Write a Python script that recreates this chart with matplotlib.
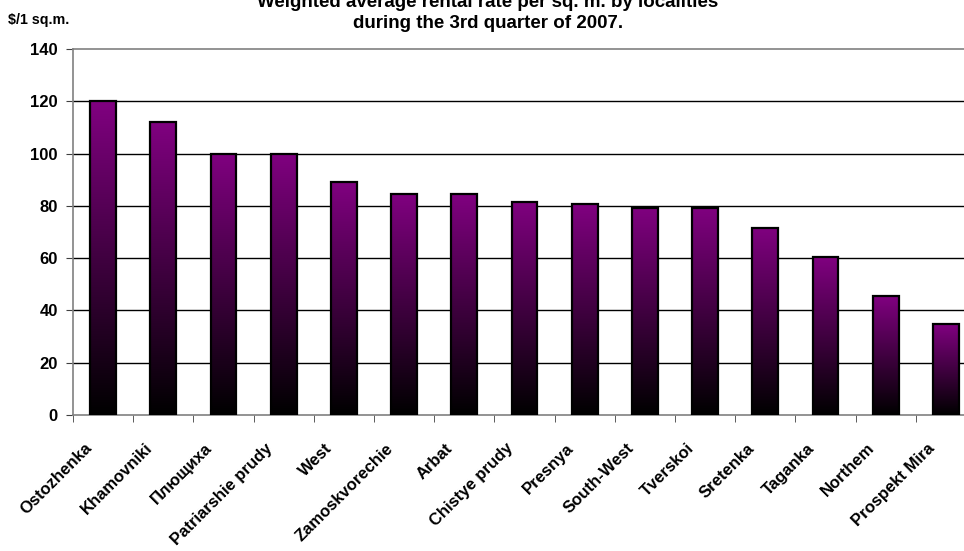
import matplotlib
matplotlib.use('Agg')
import matplotlib.pyplot as plt
import matplotlib.transforms as mtransforms
import numpy as np
from matplotlib.colors import LinearSegmentedColormap

# Rental rates by locality, $ per sq. m.
localities = ['Ostozhenka', 'Khamovniki', 'Плющиха', 'Patriarshie prudy', 'West',
              'Zamoskvorechie', 'Arbat', 'Chistye prudy', 'Presnya', 'South-West',
              'Tverskoi', 'Sretenka', 'Taganka', 'Northem', 'Prospekt Mira']
rates = [120, 112, 100, 100, 89, 84.5, 84.5, 81.5, 80.7, 79.2, 79.2, 71.7, 60.4, 45.5, 34.8]
y_ticks = [0, 20, 40, 60, 80, 100, 120, 140]

plt.rcParams['font.family'] = ['Liberation Sans', 'DejaVu Sans']
plt.rcParams['font.weight'] = 'bold'

fig = plt.figure(figsize=(9.64, 5.51), dpi=100)
ax = fig.add_axes([0.0757, 0.2468, 0.9368, 0.6643])

x = np.arange(len(localities))
bars = ax.bar(x, rates, width=0.43, facecolor='none', edgecolor='black',
              linewidth=1.6, zorder=3)

# vertical purple-to-black fill inside each bar
cmap = LinearSegmentedColormap.from_list('purp', ['#000000', '#800080'])
grad = np.linspace(0, 1, 256).reshape(-1, 1)
for patch in bars.patches:
    x0, y0 = patch.get_x(), patch.get_y()
    w, h = patch.get_width(), patch.get_height()
    img = ax.imshow(grad, cmap=cmap, origin='lower', aspect='auto',
                    extent=[x0, x0 + w, y0, y0 + h], zorder=2,
                    interpolation='bilinear')
    img.set_clip_path(patch)

ax.set_xlim(-0.5, len(localities) - 0.5)
ax.set_ylim(0, 140)
ax.set_yticks(y_ticks)
ax.set_yticklabels([str(t) for t in y_ticks], fontsize=12, fontweight='bold')
for t in y_ticks[1:-1]:
    ax.axhline(t, color='black', linewidth=1.0, zorder=1)

ax.set_xticks(x)
ax.set_xticklabels(localities, rotation=45, ha='right', rotation_mode='anchor',
                   fontsize=12, fontweight='bold')
ax.tick_params(axis='x', length=0, pad=4)
# push the slanted labels down-left so their ends sit below the bars
shift = mtransforms.ScaledTranslation(-0.19, -0.20, fig.dpi_scale_trans)
for lbl in ax.get_xticklabels():
    lbl.set_transform(lbl.get_transform() + shift)
ax.set_xticks(np.arange(len(localities) + 1) - 0.5, minor=True)
ax.tick_params(axis='x', which='minor', length=5, color='#404040', direction='out')
ax.tick_params(axis='y', length=5, color='#404040', direction='out', pad=6)

for side in ['left', 'bottom', 'top']:
    ax.spines[side].set_color('#808080')
    ax.spines[side].set_linewidth(1.2)
ax.spines['right'].set_visible(False)

fig.text(0.506, 0.996, 'Weighted average rental rate per sq. m. by localities',
         ha='center', va='center', fontsize=13.5, fontweight='bold')
fig.text(0.506, 0.957, 'during the 3rd quarter of 2007.',
         ha='center', va='center', fontsize=13.5, fontweight='bold')
fig.text(0.008, 0.964, '$/1 sq.m.', ha='left', va='center', fontsize=10.3,
         fontweight='bold')

fig.savefig('out.png', dpi=100)
